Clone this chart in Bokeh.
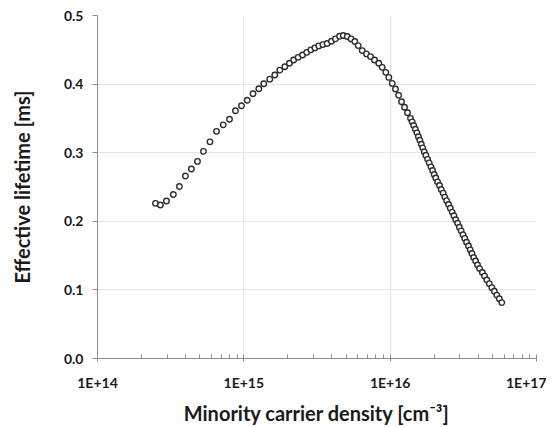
from bokeh.plotting import figure
from bokeh.models import FixedTicker, CustomJSTickFormatter, NumeralTickFormatter
from bokeh.embed import file_html
from bokeh.resources import INLINE

# Minority carrier density [cm^-3]
density = [
    2.49e14, 2.69e14, 2.96e14, 3.30e14, 3.63e14, 3.99e14, 4.38e14, 4.82e14, 5.30e14, 5.87e14,
    6.51e14, 7.23e14, 7.98e14, 8.77e14, 9.64e14, 1.055e15, 1.156e15, 1.266e15, 1.369e15, 1.504e15,
    1.628e15, 1.762e15, 1.906e15, 2.05e15, 2.19e15, 2.35e15, 2.52e15, 2.69e15, 2.87e15, 3.06e15,
    3.25e15, 3.47e15, 3.71e15, 3.97e15, 4.23e15, 4.51e15, 4.78e15, 5.09e15, 5.41e15, 5.73e15,
    6.05e15, 6.44e15, 6.89e15, 7.34e15, 7.82e15, 8.36e15, 8.82e15, 9.34e15, 9.79e15, 1.033e16,
    1.087e16, 1.143e16, 1.196e16, 1.253e16, 1.313e16, 1.377e16,
    1.413e16, 1.449e16, 1.486e16, 1.524e16, 1.560e16, 1.596e16, 1.633e16, 1.671e16, 1.710e16, 1.754e16,
    1.803e16, 1.849e16, 1.901e16, 1.950e16, 2.000e16, 2.051e16, 2.109e16, 2.173e16, 2.234e16, 2.301e16,
    2.366e16, 2.432e16, 2.506e16, 2.576e16, 2.655e16, 2.729e16, 2.805e16, 2.891e16, 2.972e16, 3.055e16,
    3.148e16, 3.236e16, 3.327e16, 3.428e16, 3.524e16, 3.622e16, 3.724e16, 3.837e16, 3.954e16, 4.083e16,
    4.266e16, 4.416e16, 4.581e16, 4.764e16, 4.955e16, 5.152e16, 5.358e16, 5.572e16, 5.794e16,
]

# Effective lifetime [ms]
lifetime = [
    0.2262, 0.2237, 0.2295, 0.2390, 0.2507, 0.2661, 0.2763, 0.2873, 0.3019, 0.3158,
    0.3311, 0.3406, 0.3487, 0.3611, 0.3684, 0.3765, 0.3860, 0.3933, 0.4006, 0.4072,
    0.4133, 0.4203, 0.4254, 0.4303, 0.4352, 0.4390, 0.4425, 0.4463, 0.4499, 0.4528,
    0.4557, 0.4576, 0.4591, 0.4624, 0.4659, 0.4697, 0.4708, 0.4693, 0.4659, 0.4620,
    0.4561, 0.4488, 0.4440, 0.4401, 0.4352, 0.4303, 0.4244, 0.4171, 0.4098, 0.4010,
    0.3928, 0.3838, 0.3743, 0.3662, 0.3582, 0.3501,
    0.3450, 0.3396, 0.3342, 0.3289, 0.3233, 0.3182, 0.3124, 0.3071, 0.3013, 0.2962,
    0.2903, 0.2851, 0.2794, 0.2741, 0.2683, 0.2631, 0.2574, 0.2521, 0.2463, 0.2411,
    0.2353, 0.2301, 0.2244, 0.2191, 0.2134, 0.2081, 0.2023, 0.1971, 0.1914, 0.1861,
    0.1803, 0.1751, 0.1694, 0.1641, 0.1584, 0.1531, 0.1473, 0.1421, 0.1363, 0.1311,
    0.1254, 0.1201, 0.1144, 0.1091, 0.1033, 0.0981, 0.0924, 0.0871, 0.0815,
]

x_ticks = [1e14, 1e15, 1e16, 1e17]
x_minor = [m * t for t in [1e14, 1e15, 1e16] for m in range(2, 10)]
y_ticks = [0.0, 0.1, 0.2, 0.3, 0.4, 0.5]

FONT = "Lato"

p = figure(
    width=546, height=427,
    x_axis_type="log", x_range=(1e14, 1e17), y_range=(0, 0.5),
    output_backend="svg", toolbar_location=None,
    min_border_left=97, min_border_right=10, min_border_top=15, min_border_bottom=66,
)
p.outline_line_color = None
p.background_fill_color = "white"

p.scatter(density, lifetime, marker="circle", size=5.5,
          fill_color="white", line_color="#2e2e2e", line_width=1.4)

# X axis
xa = p.xaxis[0]
xa.ticker = FixedTicker(ticks=x_ticks, minor_ticks=x_minor)
xa.formatter = CustomJSTickFormatter(code="return '1E+' + Math.round(Math.log10(tick));")
xa.axis_label = "Minority carrier density [cm\u207b\u00b3]"
xa.axis_label_text_font = FONT
xa.axis_label_text_font_style = "bold"
xa.axis_label_text_font_size = "20px"
xa.axis_label_text_color = "#1a1a1a"
xa.axis_label_standoff = 7
xa.major_label_text_font = FONT
xa.major_label_text_font_style = "bold"
xa.major_label_text_font_size = "14px"
xa.major_label_text_color = "#1a1a1a"
xa.major_label_standoff = 12
xa.axis_line_color = "#8c8c8c"
xa.major_tick_line_color = "#8c8c8c"
xa.minor_tick_line_color = "#8c8c8c"
xa.major_tick_in = 4
xa.major_tick_out = 3
xa.minor_tick_in = 4
xa.minor_tick_out = 0

# Y axis
ya = p.yaxis[0]
ya.ticker = FixedTicker(ticks=y_ticks)
ya.formatter = NumeralTickFormatter(format="0.0")
ya.axis_label = "Effective lifetime [ms]"
ya.axis_label_text_font = FONT
ya.axis_label_text_font_style = "bold"
ya.axis_label_text_font_size = "20px"
ya.axis_label_text_color = "#1a1a1a"
ya.axis_label_standoff = 27
ya.major_label_text_font = FONT
ya.major_label_text_font_style = "bold"
ya.major_label_text_font_size = "14px"
ya.major_label_text_color = "#1a1a1a"
ya.major_label_standoff = 9
ya.axis_line_color = "#8c8c8c"
ya.major_tick_line_color = "#8c8c8c"
ya.major_tick_in = 0
ya.major_tick_out = 5
ya.minor_tick_line_color = None

p.xgrid.grid_line_color = "#e6e6e6"
p.ygrid.grid_line_color = "#e6e6e6"
p.xgrid.ticker = FixedTicker(ticks=x_ticks)
p.ygrid.ticker = FixedTicker(ticks=y_ticks)

open("out.html", "w").write(file_html(p, INLINE))
